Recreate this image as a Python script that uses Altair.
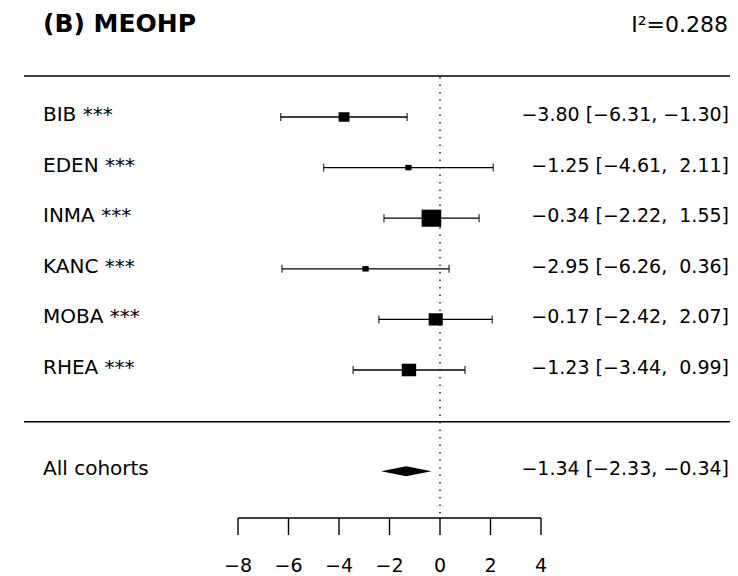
import altair as alt
import pandas as pd

# ---------------- data ----------------
cohorts = ["BIB", "EDEN", "INMA", "KANC", "MOBA", "RHEA"]
stars = ["***", "***", "***", "***", "***", "***"]
estimates = [-3.80, -1.25, -0.34, -2.95, -0.17, -1.23]
lower = [-6.31, -4.61, -2.22, -6.26, -2.42, -3.44]
upper = [-1.30, 2.11, 1.55, 0.36, 2.07, 0.99]
weights = [12, 4, 39, 4, 20, 21]          # relative weights (square areas)
pooled_label = "All cohorts"
pooled_est = -1.34
pooled_lower = -2.33
pooled_upper = -0.34
title_text = "(B) MEOHP"
i2_text = "I²=0.288"
x_ticks = [-8, -6, -4, -2, 0, 2, 4]

# ---------------- layout constants ----------------
W, H = 722, 568
PX_PER_UNIT = 25.25
ZERO_PX = 432.0
ROW_PX = 50.6
ROW1_PY = 109.0
FONT = "DejaVu Sans"

x_dom = [-ZERO_PX / PX_PER_UNIT, (W - ZERO_PX) / PX_PER_UNIT]
y_dom = [1 - ROW1_PY / ROW_PX, 1 + (H - ROW1_PY) / ROW_PX]
xs = alt.Scale(domain=x_dom, nice=False, zero=False)
ys = alt.Scale(domain=y_dom, nice=False, zero=False, reverse=True)

MINUS = "\u2212"
PAD = "\u00a0"


def num(v):
    return (MINUS if v < 0 else PAD) + f"{abs(v):.2f}"


def ci_text(e, l, u):
    return f"{num(e)} [{num(l)},{PAD}{num(u)}]".lstrip(PAD)


rows = list(range(1, len(cohorts) + 1))
pooled_row = len(cohorts) + 2

studies = pd.DataFrame({
    "row": rows,
    "label": [f"{c} {s}" for c, s in zip(cohorts, stars)],
    "est": estimates,
    "lo": lower,
    "hi": upper,
    "w": weights,
    "txt": [ci_text(e, l, u) for e, l, u in zip(estimates, lower, upper)],
})

pooled = pd.DataFrame({
    "row": [pooled_row],
    "label": [pooled_label],
    "txt": [ci_text(pooled_est, pooled_lower, pooled_upper)],
})

HALF = 0.1  # diamond half-height in row units
diamond = pd.DataFrame({
    "x": [pooled_lower, pooled_est, pooled_upper],
    "y": [pooled_row, pooled_row - HALF, pooled_row],
    "y2": [pooled_row, pooled_row + HALF, pooled_row],
})

ticks = pd.DataFrame({
    "v": x_ticks,
    "lab": [(MINUS + str(abs(t))) if t < 0 else str(t) for t in x_ticks],
})

one = pd.DataFrame({"k": [0]})

# ---------------- layers ----------------
sep_top = alt.Chart(one).mark_rule(color="black", strokeWidth=1.6).encode(
    x=alt.value(16), x2=alt.value(W), y=alt.value(68))
sep_mid = alt.Chart(one).mark_rule(color="black", strokeWidth=1.6).encode(
    x=alt.value(16), x2=alt.value(W), y=alt.value(413.7))

zero_line = alt.Chart(one).mark_rule(color="#222222", strokeWidth=1.5,
                                     strokeDash=[1.5, 6]).encode(
    x=alt.X(datum=0, type="quantitative", scale=xs, axis=None),
    y=alt.value(69), y2=alt.value(510))

whisk = alt.Chart(studies).mark_rule(color="black", strokeWidth=1.3).encode(
    x=alt.X("lo:Q", scale=xs, axis=None), x2="hi:Q",
    y=alt.Y("row:Q", scale=ys, axis=None))

cap_lo = alt.Chart(studies).mark_tick(color="black", orient="vertical",
                                      size=8, thickness=1.4).encode(
    x=alt.X("lo:Q", scale=xs, axis=None), y=alt.Y("row:Q", scale=ys, axis=None))
cap_hi = alt.Chart(studies).mark_tick(color="black", orient="vertical",
                                      size=8, thickness=1.4).encode(
    x=alt.X("hi:Q", scale=xs, axis=None), y=alt.Y("row:Q", scale=ys, axis=None))

squares = alt.Chart(studies).mark_point(
    shape="M-1.15,-1H1.15V1H-1.15Z", filled=True, color="black", opacity=1,
    strokeWidth=0).encode(
    x=alt.X("est:Q", scale=xs, axis=None),
    y=alt.Y("row:Q", scale=ys, axis=None),
    size=alt.Size("w:Q", scale=alt.Scale(domain=[0, 40], range=[0, 300]), legend=None))

dia = alt.Chart(diamond).mark_area(color="black", opacity=1).encode(
    x=alt.X("x:Q", scale=xs, axis=None),
    y=alt.Y("y:Q", scale=ys, axis=None), y2="y2:Q")

lab_study = alt.Chart(studies).mark_text(
    align="left", baseline="alphabetic", dy=4, font=FONT, fontSize=20,
    color="black").encode(
    x=alt.value(35), y=alt.Y("row:Q", scale=ys, axis=None), text="label:N")
lab_pool = alt.Chart(pooled).mark_text(
    align="left", baseline="alphabetic", dy=4, font=FONT, fontSize=20,
    color="black").encode(
    x=alt.value(35), y=alt.Y("row:Q", scale=ys, axis=None), text="label:N")

val_study = alt.Chart(studies).mark_text(
    align="right", baseline="alphabetic", dy=4, font=FONT, fontSize=19,
    color="black").encode(
    x=alt.value(W - 1), y=alt.Y("row:Q", scale=ys, axis=None), text="txt:N")
val_pool = alt.Chart(pooled).mark_text(
    align="right", baseline="alphabetic", dy=4, font=FONT, fontSize=19,
    color="black").encode(
    x=alt.value(W - 1), y=alt.Y("row:Q", scale=ys, axis=None), text="txt:N")

title = alt.Chart(one).mark_text(
    align="left", baseline="alphabetic", font=FONT, fontSize=25,
    fontWeight="bold", color="black", text=title_text).encode(
    x=alt.value(35), y=alt.value(24))
i2 = alt.Chart(one).mark_text(
    align="right", baseline="alphabetic", font=FONT, fontSize=22,
    color="black", text=i2_text).encode(
    x=alt.value(W - 2), y=alt.value(24))

axis_line = alt.Chart(one).mark_rule(color="black", strokeWidth=1.4).encode(
    x=alt.X(datum=min(x_ticks), type="quantitative", scale=xs, axis=None),
    x2=alt.X2(datum=max(x_ticks)),
    y=alt.value(510))
axis_ticks = alt.Chart(ticks).mark_rule(color="black", strokeWidth=1.4).encode(
    x=alt.X("v:Q", scale=xs, axis=None), y=alt.value(510), y2=alt.value(527))
axis_labels = alt.Chart(ticks).mark_text(
    align="center", baseline="alphabetic", font=FONT, fontSize=19,
    color="black").encode(
    x=alt.X("v:Q", scale=xs, axis=None), y=alt.value(564), text="lab:N")

chart = alt.layer(
    sep_top, sep_mid, zero_line, whisk, cap_lo, cap_hi, squares, dia,
    lab_study, lab_pool, val_study, val_pool, title, i2,
    axis_line, axis_ticks, axis_labels,
).properties(
    width=W, height=H, padding=0,
    autosize=alt.AutoSizeParams(type="none"),
    background="white",
).configure_view(stroke=None)

chart.save("out.html", embed_options={"renderer": "svg", "actions": False})
